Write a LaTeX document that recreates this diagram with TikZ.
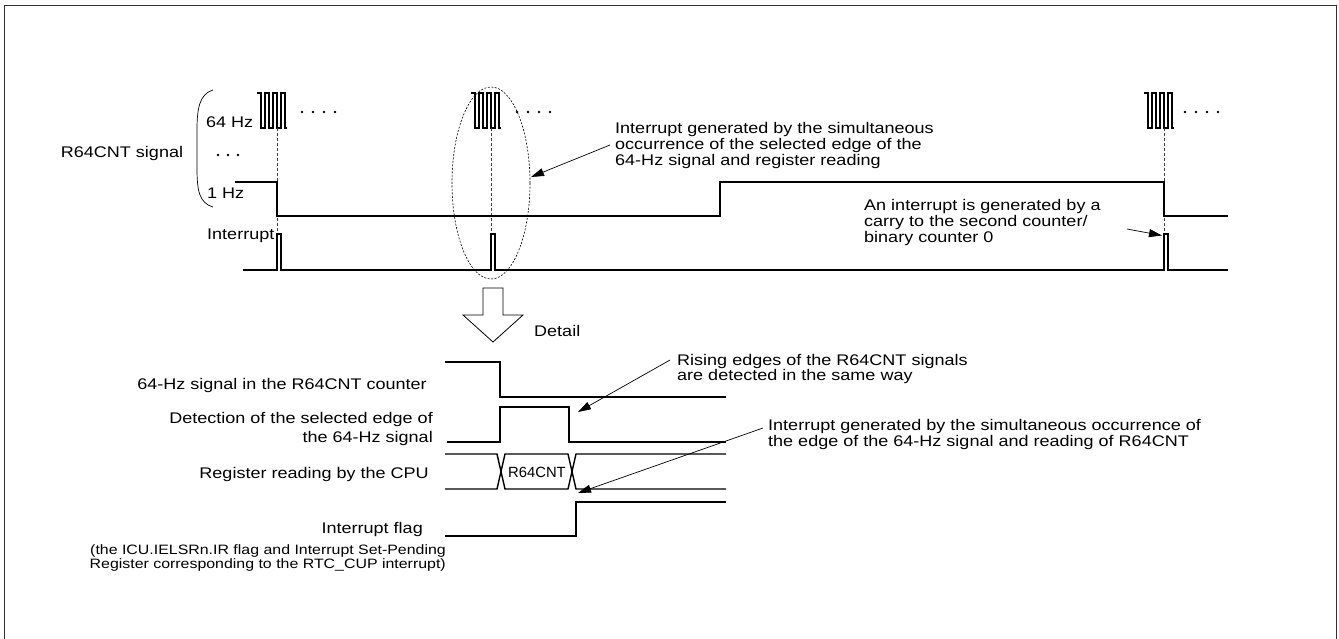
\documentclass[tikz,border=0pt]{standalone}
\usepackage{fontspec}
\setmainfont[FakeStretch=1.17]{Liberation Sans}
\newfontfamily\plainfont{Liberation Sans}
\usetikzlibrary{arrows.meta,shapes.geometric}
\newcommand\fmain{\fontsize{15.4}{15.7}\selectfont}
\newcommand\fnote{\fontsize{13.6}{14.5}\selectfont}
\begin{document}
\begin{tikzpicture}[x=1pt,y=-1pt,
  sig/.style={line width=1.4pt, line join=miter},
  thinsig/.style={line width=1.1pt, line join=miter},
  framel/.style={line width=1.6pt, draw=black!80},
  dsh/.style={line width=0.6pt, dash pattern=on 3pt off 2pt, draw=black!75},
  ann/.style={-{Triangle[length=13pt,width=8pt]}, line width=0.7pt},
  lbl/.style={font=\fmain, inner sep=0pt},
  train/.pic={\draw[thinsig] (0,0)--(4,0)--(4,35)--(8,35)--(8,0)--(12,0)--(12,35)--(16,35)--(16,0)--(20,0)--(20,35)--(24,35)--(24,0)--(28,0)--(28,35)--(30,35);}
]
\useasboundingbox (0,0) rectangle (1339,638);
% frame
\draw[framel] (4.5,645) -- (4.5,5.5) -- (1336.5,5.5) -- (1336.5,645);

% ---------- top section ----------
\node[lbl, anchor=base] (r64) at (122,157) {R64CNT signal};
\node[lbl, anchor=base west] (hz64) at (206,127) {64 Hz};
\node[lbl, anchor=base west] (hz1) at (207,198) {1 Hz};
\node[lbl, anchor=base west] (intl) at (207,239) {Interrupt};
\draw[line width=0.7pt] (213,90) .. controls (199,94) and (197,110) .. (197,130) -- (197,168) .. controls (197,190) and (199,203) .. (213,207);
\foreach \x in {218,228,238} \fill (\x,155) circle (1.3);

% pulse trains
\pic at (257,93) {train};
\pic at (471,93) {train};
\pic at (1144,93) {train};
\foreach \x in {302,313,324,335} \fill (\x,112) circle (1.3);
\foreach \x in {517,528,539,550} \fill (\x,112) circle (1.3);
\foreach \x in {1185,1196,1207,1218} \fill (\x,112) circle (1.3);

\coordinate (d1t) at (277,128); \coordinate (d1b) at (277,270);
\coordinate (d2t) at (491,128); \coordinate (d2b) at (491,270);
\coordinate (d3t) at (1164,128); \coordinate (d3b) at (1164,270);
\draw[dsh] (d1t) -- (d1b);
\draw[dsh] (d2t) -- (d2b);
\draw[dsh] (d3t) -- (d3b);

% 1 Hz signal
\draw[sig] (235,182) -- (277,182) -- (277,216) -- (720,216) -- (720,182) -- (1164,182) -- (1164,216) -- (1228,216);
% interrupt signal
\draw[sig] (243,270) -- (277,270) -- (277,234) -- (281,234) -- (281,270) -- (491,270) -- (491,234) -- (495,234) -- (495,270) -- (1164,270) -- (1164,234) -- (1168,234) -- (1168,270) -- (1228,270);

% ellipse
\node[draw, ellipse, dash pattern=on 2pt off 1.5pt, line width=0.6pt, minimum width=78pt, minimum height=192pt, inner sep=0pt] (ell) at (491,183) {};
\node[lbl, anchor=north west, align=left] (ann1) at (615,122.3) {Interrupt generated by the simultaneous\\occurrence of the selected edge of the\\64-Hz signal and register reading};
\coordinate (a1s) at (610,145);
\coordinate (a1e) at (531,177);
\draw[ann] (a1s) -- (a1e);

\node[lbl, anchor=north west, align=left] (ann2) at (864,199.3) {An interrupt is generated by a\\carry to the second counter/\\binary counter 0};
\coordinate (a2s) at (1127,229);
\coordinate (a2e) at (1162,235.5);
\draw[ann] (a2s) -- (a2e);

% ---------- detail arrow ----------
\draw[line width=0.8pt] (483,288) -- (503,288) -- (503,315) -- (523,315) -- (493,342) -- (463,315) -- (483,315) -- cycle;
\node[lbl, anchor=base west] (det) at (534,336.5) {Detail};

% ---------- lower section ----------
\node[lbl, anchor=base east] (l1) at (427,389) {64-Hz signal in the R64CNT counter};
\node[lbl, anchor=north east, align=right, font=\fontsize{15.4}{18.7}\selectfont] (l2) at (433,412.5) {Detection of the selected edge of\\the 64-Hz signal};
\node[lbl, anchor=base east] (l3) at (429,478) {Register reading by the CPU};
\node[lbl, anchor=base east] (l4) at (423,533) {Interrupt flag};
\node[inner sep=0pt, anchor=north east, align=right, font=\fnote] (l5) at (446,544) {(the ICU.IELSRn.IR flag and Interrupt Set-Pending\\Register corresponding to the RTC\_CUP interrupt)};

\draw[sig] (445,362) -- (500,362) -- (500,397) -- (726,397);
\draw[sig] (447,442) -- (500,442) -- (500,407) -- (569,407) -- (569,442) -- (726,442);
% bus
\draw[sig] (445,454) -- (497,454) -- (505,489) -- (568,489) -- (576,454) -- (726,454);
\draw[sig] (445,489) -- (497,489) -- (505,454) -- (568,454) -- (576,489) -- (726,489);
\node[inner sep=0pt, font=\plainfont\fontsize{14.8}{16}\selectfont] (bus) at (537,472) {R64CNT};
% flag
\draw[sig] (445,536) -- (576,536) -- (576,502) -- (726,502);

\node[lbl, anchor=north west, align=left, font=\fontsize{15.4}{15}\selectfont] (ann3) at (677,354.5) {Rising edges of the R64CNT signals\\are detected in the same way};
\coordinate (a3s) at (670,360);
\coordinate (a3e) at (578,412);
\draw[ann] (a3s) -- (a3e);

\node[lbl, anchor=north west, align=left, font=\fontsize{15.4}{15.5}\selectfont] (ann4) at (768,419.5) {Interrupt generated by the simultaneous occurrence of\\the edge of the 64-Hz signal and reading of R64CNT};
\coordinate (a4s) at (763,428);
\coordinate (a4e) at (578,493);
\draw[ann] (a4s) -- (a4e);
\end{tikzpicture}
\end{document}
